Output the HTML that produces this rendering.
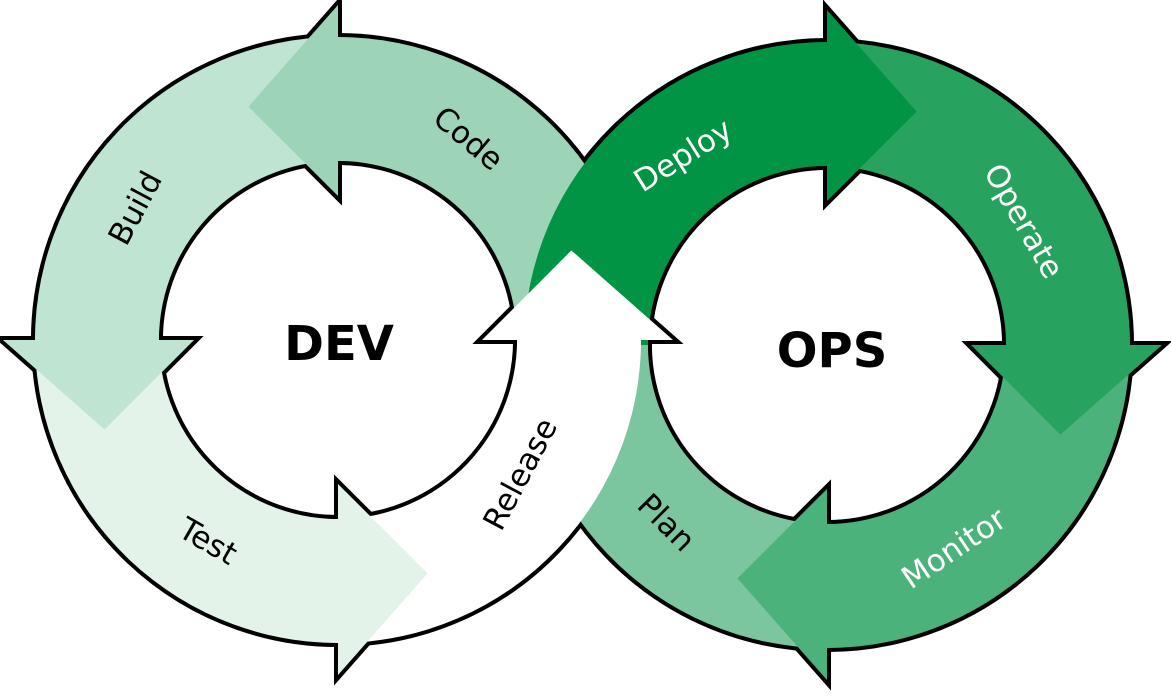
<!DOCTYPE html>
<html><head><meta charset="utf-8"><style>
html,body{margin:0;padding:0;background:#fff;}
svg{display:block;}
text{font-family:"DejaVu Sans","Liberation Sans",sans-serif;}
</style></head><body>
<svg id="s" width="1171" height="697" viewBox="0 0 1171 697" xmlns="http://www.w3.org/2000/svg">
<g id="sg" stroke="#000" stroke-width="8" stroke-linejoin="miter"></g>
<g id="fg"></g>
<g font-size="31" text-anchor="middle" dominant-baseline="middle">
<text transform="translate(467,140) rotate(40)" fill="#000">Code</text>
<text transform="translate(137,209) rotate(-62)" fill="#000">Build</text>
<text transform="translate(207,543) rotate(30)" fill="#000">Test</text>
<text transform="translate(522,475) rotate(-62)" fill="#000">Release</text>
<text transform="translate(684,157) rotate(-32)" fill="#fff">Deploy</text>
<text transform="translate(1022,222) rotate(60)" fill="#fff">Operate</text>
<text transform="translate(955,550) rotate(-34)" fill="#fff">Monitor</text>
<text transform="translate(665,524) rotate(45)" fill="#000">Plan</text>
</g>
<text x="339" y="360" font-size="48" font-weight="bold" text-anchor="middle" fill="#000">DEV</text>
<text x="832" y="367" font-size="48" font-weight="bold" text-anchor="middle" fill="#000">OPS</text>
<script>
(function(){
var NS="http://www.w3.org/2000/svg";
var sg=document.getElementById("sg"), fg=document.getElementById("fg");
var R=303,r=179;
function P(cx,cy,rad,deg){var a=deg*Math.PI/180;return (cx+rad*Math.cos(a)).toFixed(1)+","+(cy+rad*Math.sin(a)).toFixed(1);}
function add(d,fill){
 var p=document.createElementNS(NS,"path");p.setAttribute("d",d);p.setAttribute("fill",fill);sg.appendChild(p);
 var q=document.createElementNS(NS,"path");q.setAttribute("d",d);q.setAttribute("fill",fill);fg.appendChild(q);
}
function sector(cx,cy,a1,a2,fill){
 var dir=a2>a1?1:-1; a2+=dir*3;
 var sw=dir>0?1:0, sw2=dir>0?0:1;
 add("M"+P(cx,cy,R,a1)+" A"+R+" "+R+" 0 0 "+sw+" "+P(cx,cy,R,a2)+" L"+P(cx,cy,r,a2)+" A"+r+" "+r+" 0 0 "+sw2+" "+P(cx,cy,r,a1)+" Z",fill);
}
function head(cx,cy,a2,dir,fill){
 add("M"+P(cx,cy,R+32,a2)+" L"+P(cx,cy,250,a2+dir*21)+" L"+P(cx,cy,r-35,a2)+" Z",fill);
}
var L=[338,340], Rc=[827,345];
var cCode="#9dd4b8",cBuild="#c0e4d2",cTest="#e4f3ea",cRel="#ffffff",cDep="#009444",cOp="#27a35f",cMon="#4cb27b",cPlan="#7cc69f";
sector(Rc[0],Rc[1],90,180,cPlan);
sector(L[0],L[1],360,270,cCode);
sector(L[0],L[1],270,180,cBuild);
sector(L[0],L[1],180,90,cTest);
sector(Rc[0],Rc[1],270,360,cOp);
sector(Rc[0],Rc[1],360,450,cMon);
sector(Rc[0],Rc[1],180,270,cDep);
sector(L[0],L[1],90,0,cRel);
head(L[0],L[1],270,-1,cCode);
head(L[0],L[1],180,-1,cBuild);
head(L[0],L[1],90,-1,cTest);
head(Rc[0],Rc[1],270,1,cDep);
head(Rc[0],Rc[1],360,1,cOp);
head(Rc[0],Rc[1],450,1,cMon);
head(L[0],L[1],0,-1,cRel);
})();
</script>
</svg>
</body></html>
